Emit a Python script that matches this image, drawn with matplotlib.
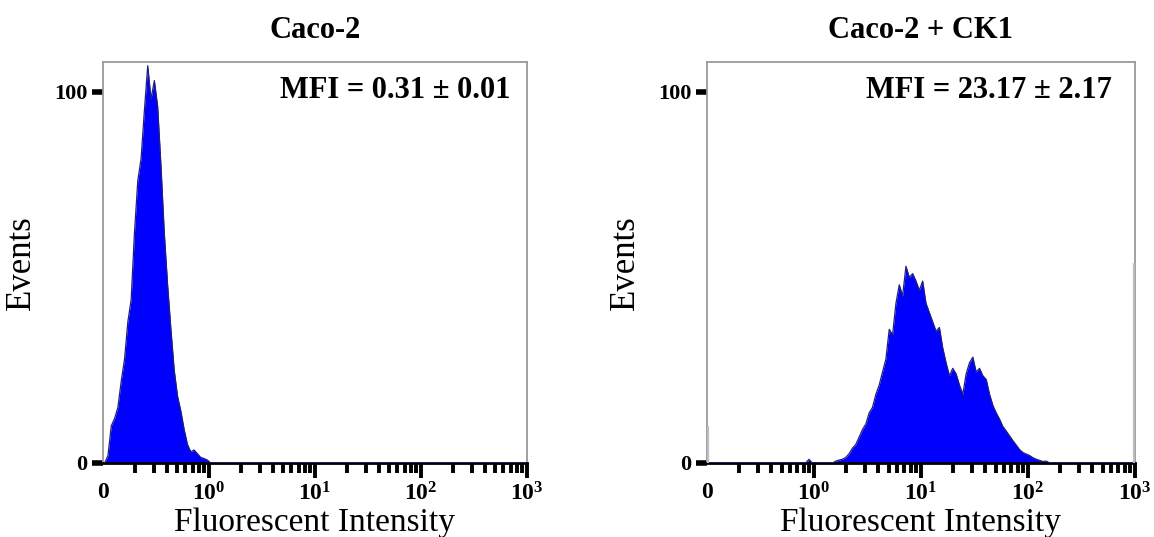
import numpy as np
import matplotlib.pyplot as plt
from matplotlib.ticker import FixedLocator, NullFormatter

plt.rcParams['font.family'] = ['Liberation Serif', 'DejaVu Serif']
plt.rcParams['mathtext.fontset'] = 'custom'
plt.rcParams['mathtext.rm'] = 'Liberation Serif'
plt.rcParams['mathtext.bf'] = 'Liberation Serif:bold'

# 128 log channels over 4 decades (10^-1 .. 10^3), 32 channels per decade
n_channels = 128
per_decade = 32

titles = ['Caco-2', 'Caco-2 + CK1']
mfi_labels = ['MFI = 0.31 \u00b1 0.01', 'MFI = 23.17 \u00b1 2.17']

# Caco-2: counts starting at channel 1
caco2_start = 1
caco2_counts = [2, 10, 12, 15, 22, 28, 38, 44, 62, 76, 82, 95, 107, 98, 103,
                96, 80, 62, 48, 36, 25, 18, 14, 9, 5, 3, 3.5, 2.5, 1.5, 1.2, 0.8]

# Caco-2 + CK1: counts starting at channel 38
ck1_start = 38
ck1_counts = [0.5, 0.8, 1, 1.5, 2.5, 4, 5, 7, 9, 10.5, 13.5, 15, 18.5, 21, 24.5,
              28, 36, 34.5, 43, 48, 45, 53, 50, 51, 49, 46.5, 49, 43, 40.5, 38,
              35.5, 36.5, 31, 27, 23.5, 25.5, 24, 21, 18.5, 24, 27, 28.5, 24.5,
              25.5, 23.5, 22.5, 18.5, 15.5, 13.5, 11.8, 9.8, 8.6, 7.3, 6, 4.8,
              3.6, 2.8, 2.4, 2, 1.4, 1, 0.7, 0.4, 0.5]
ck1_extra = {30: 1.0}
# off-scale events piled on the first / last channel
ck1_low_offscale = 10
ck1_high_offscale = 54

edges = 10.0 ** (-1 + np.arange(n_channels + 1) / per_decade)
centers = np.sqrt(edges[:-1] * edges[1:])


def full_counts(start, counts, extra=None):
    arr = np.zeros(n_channels)
    arr[start:start + len(counts)] = counts
    if extra:
        for k, v in extra.items():
            arr[k] = v
    return arr


datasets = [full_counts(caco2_start, caco2_counts),
            full_counts(ck1_start, ck1_counts, ck1_extra)]

fig = plt.figure(figsize=(11.54, 5.37), dpi=100)
ax_rects = [[103 / 1154, 74 / 537, 424 / 1154, 401 / 537],
            [707 / 1154, 74 / 537, 428 / 1154, 401 / 537]]
mfi_x = [0.96, 0.945]

for idx, (rect, counts) in enumerate(zip(ax_rects, datasets)):
    ax = fig.add_axes(rect)
    ax.fill_between(centers, counts, color='#0000ff', linewidth=0, zorder=2)
    ax.plot(centers, counts, color='#20207a', linewidth=0.9, zorder=3)
    if idx == 1:
        ax.vlines(edges[-1] * 0.996, 0, ck1_high_offscale, color='#bdbdbd',
                  linewidth=3, zorder=4)
        ax.vlines(edges[0] * 1.005, 0, ck1_low_offscale, color='#bdbdbd',
                  linewidth=3, zorder=4)

    ax.set_xscale('log')
    ax.set_xlim(0.1, 1000)
    ax.set_ylim(0, 108)

    ax.xaxis.set_major_locator(FixedLocator([0.1, 1, 10, 100, 1000]))
    ax.set_xticklabels(['0', r'$\mathbf{10^0}$', r'$\mathbf{10^1}$',
                        r'$\mathbf{10^2}$', r'$\mathbf{10^3}$'],
                       fontsize=17, fontweight='bold')
    minors = [m * 10.0 ** d for d in range(-1, 3) for m in range(2, 10)]
    ax.xaxis.set_minor_locator(FixedLocator(minors))
    ax.xaxis.set_minor_formatter(NullFormatter())
    ax.tick_params(axis='x', which='major', direction='out', length=11,
                   width=2.8, color='black', pad=3)
    ax.tick_params(axis='x', which='minor', direction='out', length=7,
                   width=2.8, color='black')
    # hide the major tick at the "0" position
    ax.xaxis.get_major_ticks()[0].tick1line.set_visible(False)

    ax.set_yticks([0, 100])
    ax.set_yticklabels(['0', '100'], fontsize=16, fontweight='bold')
    ax.tick_params(axis='y', direction='out', length=8, width=4,
                   color='black', pad=3)

    for side in ['left', 'top', 'right']:
        ax.spines[side].set_color('#9a9a9a')
        ax.spines[side].set_linewidth(1.3)
    ax.spines['bottom'].set_color('black')
    ax.spines['bottom'].set_linewidth(2)

    ax.set_title(titles[idx], fontsize=22, fontweight='bold', pad=17)
    ax.text(mfi_x[idx], 0.93, mfi_labels[idx], transform=ax.transAxes,
            ha='right', va='center', fontsize=22, fontweight='bold')
    ax.set_xlabel('Fluorescent Intensity', fontsize=24, labelpad=1)
    ax.set_ylabel('Events', fontsize=25, labelpad=12)

fig.savefig('out.png', dpi=100)
